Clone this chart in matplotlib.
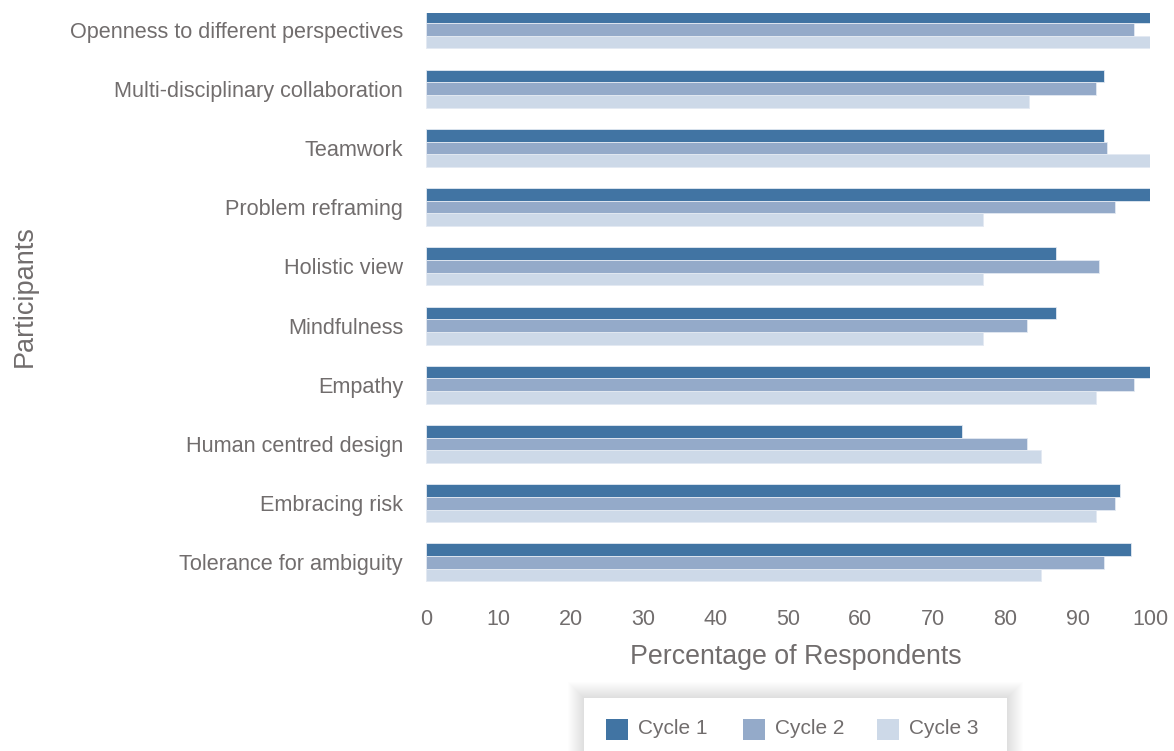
import numpy as np
import matplotlib
matplotlib.use("Agg")
import matplotlib.pyplot as plt
from matplotlib.patches import Rectangle

plt.rcParams['font.family'] = ['Liberation Sans', 'DejaVu Sans']

categories = ["Openness to different perspectives", "Multi-disciplinary collaboration",
              "Teamwork", "Problem reframing", "Holistic view", "Mindfulness",
              "Empathy", "Human centred design", "Embracing risk", "Tolerance for ambiguity"]
cycle1 = [100, 93.6, 93.6, 100, 87.0, 87.0, 100, 74.1, 95.9, 97.4]
cycle2 = [97.8, 92.5, 94.1, 95.2, 93.0, 83.0, 97.8, 83.0, 95.2, 93.7]
cycle3 = [100, 83.3, 100, 77.0, 77.0, 77.0, 92.6, 84.9, 92.6, 84.9]
series = ["Cycle 1", "Cycle 2", "Cycle 3"]
colors = ["#4174a3", "#94aac9", "#cdd9e8"]
text_col = "#716d6d"

fig = plt.figure(figsize=(11.74, 7.51), dpi=100)
ax = fig.add_axes([426 / 1174, 1 - 592 / 751, (1150 - 426) / 1174, (592 - 13) / 751])

y = np.arange(len(categories))
h = 0.213
for k, (vals, c) in enumerate(zip([cycle1, cycle2, cycle3], colors)):
    ax.barh(y + (k - 1) * h, vals, height=h, color=c, edgecolor="#e3e9f2",
            linewidth=0.6, label=series[k])

ax.set_xlim(0, 100)
ax.set_ylim(9.5, -0.28)
ax.set_yticks(y)
ax.set_yticklabels(categories, fontsize=15.6, color=text_col)
ax.set_xticks(range(0, 101, 10))
ax.set_xticklabels([str(v) for v in range(0, 101, 10)], fontsize=15.5, color=text_col)
ax.tick_params(length=0, pad=16.5, axis='y')
ax.tick_params(length=0, pad=12, axis='x')
for s in ax.spines.values():
    s.set_visible(False)

ax.set_xlabel("Percentage of Respondents", fontsize=19.3, color=text_col)
ax.xaxis.set_label_coords((796 - 426) / (1150 - 426), -(657 - 592) / (592 - 13))
ax.xaxis.label.set_va("center")
fig.text(25 / 1174, 1 - 296 / 751, "Participants", rotation=90, fontsize=19.5,
         color=text_col, ha="center", va="center")

# legend box with a soft shadow
bx0, by0, bx1, by1 = 584, 698, 1007, 760
for i in range(16, 0, -1):
    fig.patches.append(Rectangle(((bx0 - i) / 1174, 1 - (by1 + i) / 751),
                                 (bx1 - bx0 + 2 * i) / 1174, (by1 - by0 + 2 * i) / 751,
                                 transform=fig.transFigure, facecolor="black",
                                 alpha=0.009, edgecolor="none", zorder=1))
fig.patches.append(Rectangle((bx0 / 1174, 1 - by1 / 751), (bx1 - bx0) / 1174,
                             (by1 - by0) / 751, transform=fig.transFigure,
                             facecolor="white", edgecolor="none", zorder=2))
leg_x = [606, 743, 877]
for xp, lab, c in zip(leg_x, series, colors):
    fig.patches.append(Rectangle((xp / 1174, 1 - 740 / 751), 22 / 1174, 21 / 751,
                                 transform=fig.transFigure, facecolor=c,
                                 edgecolor="none", zorder=3))
    fig.text((xp + 32) / 1174, 1 - 729 / 751, lab, fontsize=15, color=text_col,
             va="center", ha="left", zorder=4)

fig.savefig("out.png", dpi=100)
